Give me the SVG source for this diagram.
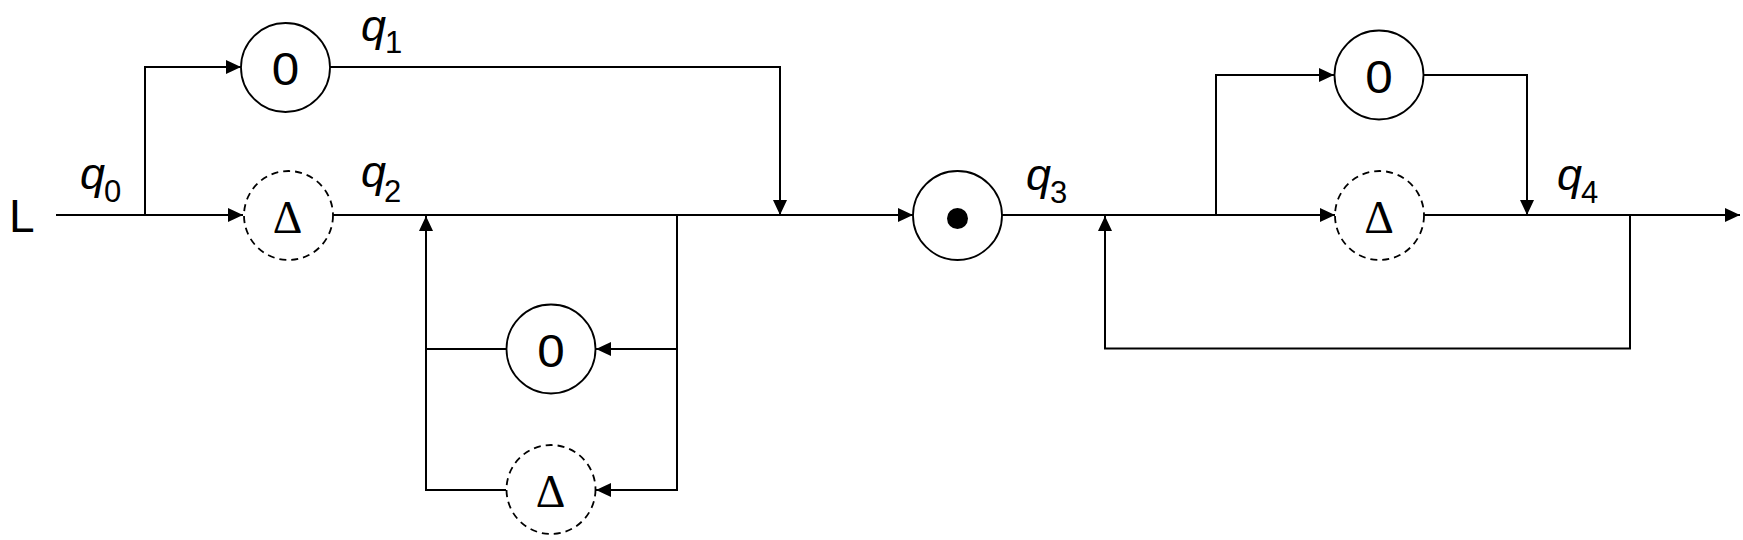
<svg xmlns="http://www.w3.org/2000/svg" width="1743" height="540" viewBox="0 0 1743 540">
<style>
.ln{fill:none;stroke:#000;stroke-width:2}
.nd{fill:#fff;stroke:#000;stroke-width:1.8}
.ds{fill:#fff;stroke:#000;stroke-width:1.8;stroke-dasharray:7 5}
.sym{font-family:"Liberation Sans",Arial,sans-serif;font-size:46px;text-anchor:middle;fill:#000}
.del{font-family:"Liberation Serif","Times New Roman",serif;font-size:46px;text-anchor:middle;fill:#000}
.q{font-family:"Liberation Sans",Arial,sans-serif;font-size:45px;font-style:italic;fill:#000}
.sub{font-size:31px;font-style:normal}
.lab{font-family:"Liberation Sans",Arial,sans-serif;font-size:46px;fill:#000}
</style>
<defs>
<marker id="ah" markerUnits="userSpaceOnUse" markerWidth="15" markerHeight="14" refX="15" refY="7" orient="auto">
<path d="M0,0 L15,7 L0,14 Z" fill="#000"/>
</marker>
</defs>
<g id="connectors">
<path class="ln" d="M56,215 H243" marker-end="url(#ah)"/>
<path class="ln" d="M145,215 V67 H241" marker-end="url(#ah)"/>
<path class="ln" d="M330,67 H780 V215" marker-end="url(#ah)"/>
<path class="ln" d="M333,215 H913" marker-end="url(#ah)"/>
<path class="ln" d="M677,215 V490 H596" marker-end="url(#ah)"/>
<path class="ln" d="M677,349 H596" marker-end="url(#ah)"/>
<path class="ln" d="M506,349 H426"/>
<path class="ln" d="M506,490 H426 V216" marker-end="url(#ah)"/>
<path class="ln" d="M1002,215 H1335" marker-end="url(#ah)"/>
<path class="ln" d="M1216,215 V75 H1334" marker-end="url(#ah)"/>
<path class="ln" d="M1424,75 H1527 V215" marker-end="url(#ah)"/>
<path class="ln" d="M1424,215 H1740" marker-end="url(#ah)"/>
<path class="ln" d="M1630,215 V348.5 H1105 V216" marker-end="url(#ah)"/>
</g>
<g id="input-L"><text class="lab" x="9" y="232">L</text></g>
<g id="node-q1-zero"><circle class="nd" cx="285.5" cy="67.5" r="44.5"/><text class="sym" x="285.5" y="85" textLength="27.5" lengthAdjust="spacingAndGlyphs">0</text></g>
<g id="node-q2-delta"><circle class="ds" cx="288.5" cy="215.5" r="44.5"/><text class="del" x="287.5" y="233">Δ</text></g>
<g id="node-loop-zero"><circle class="nd" cx="551" cy="349" r="44.5"/><text class="sym" x="551" y="366.5" textLength="27.5" lengthAdjust="spacingAndGlyphs">0</text></g>
<g id="node-loop-delta"><circle class="ds" cx="551" cy="489.5" r="44.5"/><text class="del" x="550.5" y="507">Δ</text></g>
<g id="node-dot"><circle class="nd" cx="957.5" cy="215.5" r="44.5"/><circle cx="957.5" cy="218.5" r="10.5" fill="#000"/></g>
<g id="node-top-zero"><circle class="nd" cx="1379" cy="75" r="44.5"/><text class="sym" x="1379" y="92.5" textLength="27.5" lengthAdjust="spacingAndGlyphs">0</text></g>
<g id="node-q4-delta"><circle class="ds" cx="1379.5" cy="215.5" r="44.5"/><text class="del" x="1379" y="233">Δ</text></g>
<g id="labels">
<text class="q" x="80" y="189">q<tspan class="sub" x="104" y="202">0</tspan></text>
<text class="q" x="361" y="41">q<tspan class="sub" x="385" y="53">1</tspan></text>
<text class="q" x="361" y="187">q<tspan class="sub" x="384" y="202">2</tspan></text>
<text class="q" x="1026" y="189.5">q<tspan class="sub" x="1050" y="203">3</tspan></text>
<text class="q" x="1557" y="189.5">q<tspan class="sub" x="1581" y="203">4</tspan></text>
</g>
</svg>
